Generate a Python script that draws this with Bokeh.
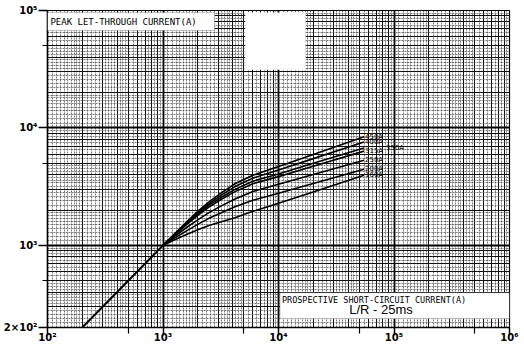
from bokeh.plotting import figure
from bokeh.models import FixedTicker, Grid, BoxAnnotation, Label
from bokeh.embed import file_html
from bokeh.resources import INLINE

# ---------------- data ----------------
diag_prospective = [200, 1000]
diag_peak = [200, 1000]

prospective = [1000, 1250, 1600, 2000, 2500, 3200, 4200, 6000, 10000, 20000, 55000]
ratings = ["450A", "400A", "350A", "315A", "250A", "200A", "160A"]
peak_450 = [1000, 1245, 1580, 1950, 2350, 2800, 3350, 3950, 4700, 5950, 8400]
peak_400 = [1000, 1240, 1560, 1900, 2270, 2680, 3170, 3740, 4380, 5480, 7600]
peak_350 = [1000, 1230, 1530, 1850, 2190, 2570, 3000, 3520, 4060, 5000, 6750]
peak_315 = [1000, 1220, 1500, 1800, 2120, 2470, 2870, 3350, 3850, 4720, 6350]
peak_250 = [1000, 1190, 1420, 1650, 1900, 2170, 2480, 2880, 3320, 4010, 5300]
peak_200 = [1000, 1150, 1330, 1510, 1700, 1900, 2130, 2420, 2780, 3360, 4450]
peak_160 = [1000, 1110, 1240, 1360, 1480, 1590, 1720, 1950, 2280, 2850, 3950]
peaks = [peak_450, peak_400, peak_350, peak_315, peak_250, peak_200, peak_160]

x_ticks = [1e2, 1e3, 1e4, 1e5, 1e6]
x_tick_labels = ["10²", "10³", "10⁴", "10⁵", "10⁶"]
x_minor = [5e2, 5e3, 5e4, 5e5]
y_ticks = [2e2, 1e3, 1e4, 1e5]
y_tick_labels = ["2×10²", "10³", "10⁴", "10⁵"]
y_minor = [5e2, 5e3, 5e4]

y_title = "PEAK LET-THROUGH CURRENT(A)"
x_title = "PROSPECTIVE SHORT-CIRCUIT CURRENT(A)"
note = "L/R - 25ms"

# ---------------- figure ----------------
p = figure(width=524, height=357, x_axis_type="log", y_axis_type="log",
           x_range=(1e2, 1e6), y_range=(2e2, 1e5),
           output_backend="svg", toolbar_location=None,
           min_border_left=44, min_border_right=15, min_border_top=10, min_border_bottom=30)
p.background_fill_color = "white"
p.border_fill_color = "white"
p.outline_line_color = "black"
p.outline_line_width = 1.2
p.xgrid.visible = False
p.ygrid.visible = False

# graph-paper grid
fine_m = [1.1, 1.2, 1.3, 1.4, 1.5, 1.6, 1.7, 1.8, 1.9, 2.2, 2.4, 2.6, 2.8, 3.2, 3.4, 3.6, 3.8,
          4.25, 4.5, 4.75, 5.5, 6.5, 7.5, 8.5, 9.5]
mid_m = [2, 3, 4, 5, 6, 7, 8, 9]

def ticks_in(lo, hi, mults):
    out = []
    d = 1.0
    while d < hi * 10:
        for m in mults:
            v = m * d
            if lo <= v <= hi:
                out.append(v)
        d *= 10
    return out

for dim, (lo, hi) in ((0, (1e2, 1e6)), (1, (2e2, 1e5))):
    g1 = Grid(dimension=dim, ticker=FixedTicker(ticks=ticks_in(lo, hi, fine_m)),
              grid_line_color="#444444", grid_line_width=0.7, grid_line_dash="2 1")
    g2 = Grid(dimension=dim, ticker=FixedTicker(ticks=ticks_in(lo, hi, mid_m)),
              grid_line_color="#111111", grid_line_width=1.0)
    g3 = Grid(dimension=dim, ticker=FixedTicker(ticks=ticks_in(lo, hi, [1])),
              grid_line_color="black", grid_line_width=1.8)
    for g in (g1, g2, g3):
        p.add_layout(g)

# white boxes
p.add_layout(BoxAnnotation(left=1e2, right=2.8e3, bottom=6.75e4, top=9.6e4,
                           fill_color="white", fill_alpha=1, line_color="black", line_width=0.8))
p.add_layout(BoxAnnotation(left=5.15e3, right=1.72e4, bottom=3.13e4, top=9.6e4,
                           fill_color="white", fill_alpha=1, line_color=None))
p.add_layout(BoxAnnotation(left=1.03e4, right=1e6, bottom=238, top=396,
                           fill_color="white", fill_alpha=1, line_color="black", line_width=0.8))

# curves
p.line(diag_prospective, diag_peak, line_color="black", line_width=2)
for name, pk in zip(ratings, peaks):
    p.line(prospective, pk, line_color="black", line_width=1.6)
    xoff = 22 if name == "350A" else 1
    p.add_layout(Label(x=prospective[-1], y=pk[-1], x_offset=xoff, text=name,
                       text_baseline="middle", text_align="left",
                       text_font="DejaVu Sans", text_font_size="7px", text_color="black"))

# axes
for ax, ticks, labels, minor in ((p.xaxis[0], x_ticks, x_tick_labels, x_minor),
                                 (p.yaxis[0], y_ticks, y_tick_labels, y_minor)):
    ax.ticker = FixedTicker(ticks=ticks, minor_ticks=minor)
    ax.major_label_overrides = dict(zip(ticks, labels))
    ax.axis_line_color = "black"
    ax.axis_line_width = 1.5
    ax.major_tick_line_color = "black"
    ax.major_tick_line_width = 1.5
    ax.minor_tick_line_color = "black"
    ax.minor_tick_line_width = 1.2
    ax.major_tick_in = 0
    ax.minor_tick_in = 0
    ax.major_label_text_font = "DejaVu Sans"
    ax.major_label_text_font_style = "bold"
    ax.major_label_text_font_size = "10px"
    ax.major_label_text_color = "black"

p.xaxis.major_tick_out = 8
p.xaxis.minor_tick_out = 6
p.xaxis.major_label_standoff = -4
p.yaxis.major_tick_out = 9
p.yaxis.minor_tick_out = 5
p.yaxis.major_label_standoff = 1

# texts
p.add_layout(Label(x=106, y=8.05e4, text=y_title, text_baseline="middle",
                   text_font="DejaVu Sans Mono", text_font_size="9px", text_color="black"))
p.add_layout(Label(x=1.07e4, y=345, text=x_title, text_baseline="middle",
                   text_font="DejaVu Sans Mono", text_font_size="8.5px", text_color="black"))
p.add_layout(Label(x=4.1e4, y=284, text=note, text_baseline="middle",
                   text_font="Liberation Sans", text_font_size="13px", text_color="black"))

open("out.html", "w").write(file_html(p, INLINE))
